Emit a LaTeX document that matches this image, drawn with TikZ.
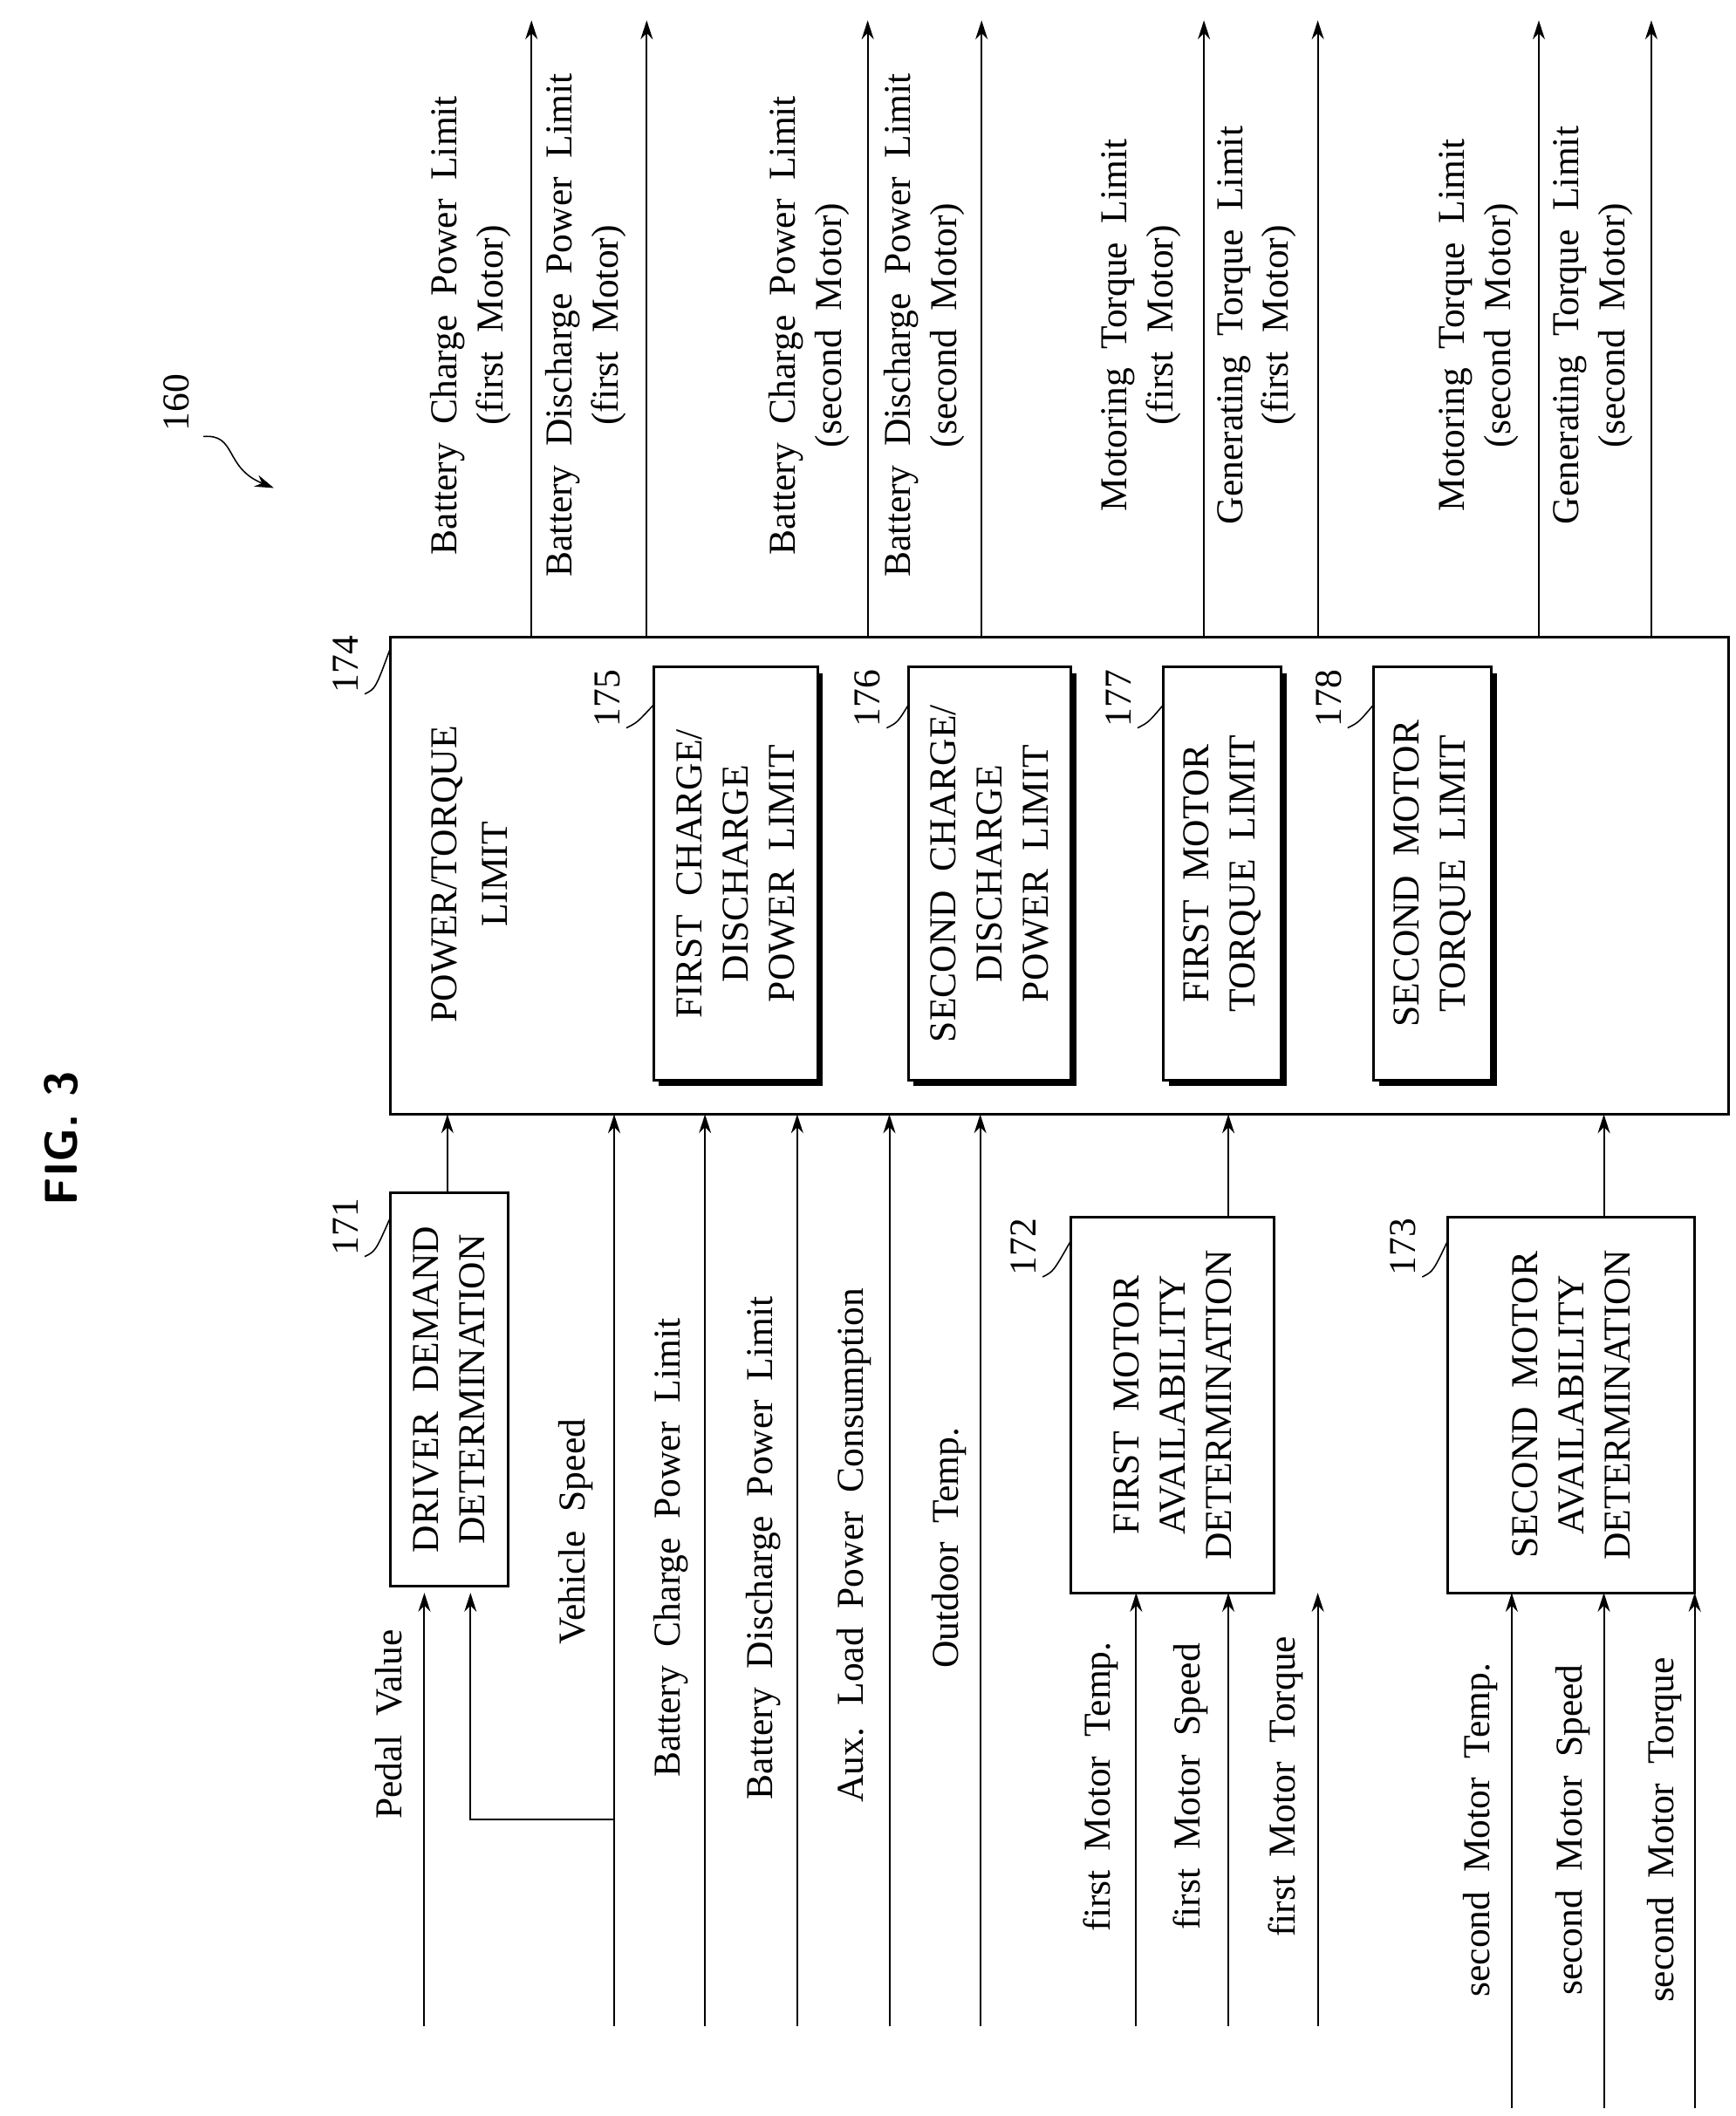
\documentclass[tikz,border=0pt]{standalone}
\usepackage{fontspec}
\setmainfont{Liberation Serif}
\usetikzlibrary{arrows.meta}
\newcommand\myfnt{\fontsize{28}{34}\selectfont\spaceskip=0.5em plus 0.1em\relax}
\begin{document}
\begin{tikzpicture}[x=1pt,y=-1pt,
  every node/.style={font=\myfnt},
  box/.style={draw,line width=2pt},
  lab/.style={rotate=90,align=center,inner sep=0pt},
  rt/.style={rotate=90,inner sep=0pt},
  ar/.style={line width=1.3pt,-{Stealth[length=14pt,width=9pt]}},
  tick/.style={line width=1pt}]
\useasboundingbox (0,0) rectangle (1280,1561);
\node[rt,font=\sffamily\bfseries\fontsize{34}{40}\selectfont] (fig) at (45,840) {FIG. 3};
\node[rt] (n160) at (130,297) {160};
\coordinate (s1) at (150,322);
\coordinate (s2) at (202,360);
\draw[ar,line width=1pt] (s1) .. controls (175,320) and (165,345) .. (s2);
% boxes
\node[box,minimum width=87pt,minimum height=290pt] (b171) at (331.5,1025) {};
\node[lab] at (b171) {DRIVER DEMAND\\DETERMINATION};
\node[box,minimum width=987pt,minimum height=352pt] (b174) at (781.5,646) {};
\node[lab] at (330,645) {POWER/TORQUE};
\node[lab] at (365,645) {LIMIT};
\foreach \nm/\cx/\w/\t in {b175/542.5/121/{FIRST CHARGE/\\DISCHARGE\\POWER LIMIT},
  b176/730/120/{SECOND CHARGE/\\DISCHARGE\\POWER LIMIT},
  b177/901.5/87/{FIRST MOTOR\\TORQUE LIMIT},
  b178/1056.5/87/{SECOND MOTOR\\TORQUE LIMIT}}{
  \fill (\cx+\w/2,497) rectangle (\cx+\w/2+4,801);
  \fill (\cx-\w/2+4,797) rectangle (\cx+\w/2+4,801);
  \node[box,fill=white,minimum width=\w pt,minimum height=305pt] (\nm) at (\cx,644.5) {};
  \node[lab] at (\nm) {\t};
}
\node[box,minimum width=150pt,minimum height=277pt] (b172) at (865,1036.5) {};
\node[lab] at (b172) {FIRST MOTOR\\AVAILABILITY\\DETERMINATION};
\node[box,minimum width=182pt,minimum height=277pt] (b173) at (1159,1036.5) {};
\node[lab] at (b173) {SECOND MOTOR\\AVAILABILITY\\DETERMINATION};
% ref labels
\foreach \n/\x/\y/\tx/\ty in {171/255/905/288/898,174/255/490/288/478,175/448/515/482/520,176/640/515/670/520,177/825/515/858/520,178/980/515/1013/520,172/755/920/790/915,173/1035/920/1068/915}{
  \node[rt] (r\n) at (\x,\y) {\n};
  \draw[tick] (\x+14,\y+22) .. controls (\x+22,\y+18) .. (\tx,\ty);
}
% inputs
\draw[ar] (313,1495) -- (313,1175);
\draw[ar] (453,1495) -- (453,822);
\draw[ar] (453,1342) -- (347,1342) -- (347,1175);
\foreach \x in {520,588,656,723}{\draw[ar] (\x,1495) -- (\x,822);}
\draw[ar] (330,880) -- (330,822);
\foreach \x in {838,906,972}{\draw[ar] (\x,1495) -- (\x,1175);}
\foreach \x in {1115,1183,1250}{\draw[ar] (\x,1555) -- (\x,1175);}
\draw[ar] (906,898) -- (906,822);
\draw[ar] (1183,898) -- (1183,822);
\node[rt] at (287,1272) {Pedal Value};
\node[rt] at (425,1130) {Vehicle Speed};
\node[rt] at (495,1142) {Battery Charge Power Limit};
\node[rt] at (563,1142) {Battery Discharge Power Limit};
\node[rt] at (630,1140) {Aux. Load Power Consumption};
\node[rt] at (700,1142) {Outdoor Temp.};
\node[rt] at (812,1318) {first Motor Temp.};
\node[rt] at (878,1318) {first Motor Speed};
\node[rt] at (948,1318) {first Motor Torque};
\node[rt] at (1092,1350) {second Motor Temp.};
\node[rt] at (1160,1350) {second Motor Speed};
\node[rt] at (1228,1350) {second Motor Torque};
% outputs
\foreach \x in {392,477,640,724,888,972,1135,1218}{\draw[ar] (\x,470) -- (\x,15);}
\node[lab] at (347,240) {Battery Charge Power Limit\\(first Motor)};
\node[lab] at (432,240) {Battery Discharge Power Limit\\(first Motor)};
\node[lab] at (597,240) {Battery Charge Power Limit\\(second Motor)};
\node[lab] at (682,240) {Battery Discharge Power Limit\\(second Motor)};
\node[lab] at (842,240) {Motoring Torque Limit\\(first Motor)};
\node[lab] at (927,240) {Generating Torque Limit\\(first Motor)};
\node[lab] at (1091,240) {Motoring Torque Limit\\(second Motor)};
\node[lab] at (1175,240) {Generating Torque Limit\\(second Motor)};
\end{tikzpicture}
\end{document}
